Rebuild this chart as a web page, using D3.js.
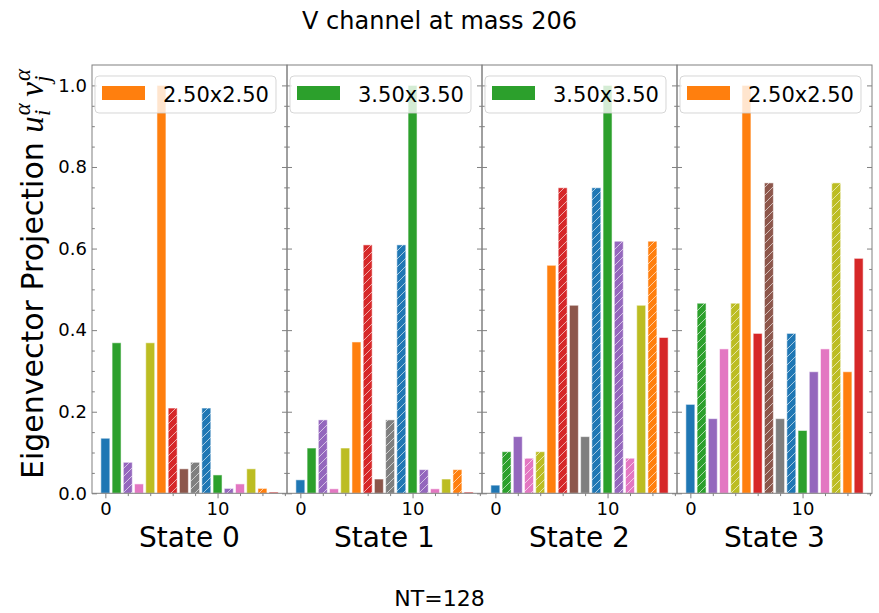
<!DOCTYPE html>
<html>
<head>
<meta charset="utf-8">
<script src="https://cdn.jsdelivr.net/npm/d3@7"></script>
<style>
  body { margin: 0; background: #fff; }
  svg { display: block; font-family: "DejaVu Sans", sans-serif; }
</style>
</head>
<body>
<svg id="chart" width="879" height="613"></svg>
<script>
// ---------------- data ----------------
const stateLabels = ["State 0", "State 1", "State 2", "State 3"];
const barIndex = d3.range(16);
const barColors = ["#1f77b4", "#2ca02c", "#9467bd", "#e377c2", "#bcbd22", "#ff7f0e", "#d62728", "#8c564b",
                   "#7f7f7f", "#1f77b4", "#2ca02c", "#9467bd", "#e377c2", "#bcbd22", "#ff7f0e", "#d62728"];

const state0 = [0.135, 0.369, 0.076, 0.023, 0.369, 1.000, 0.209, 0.060, 0.076, 0.209, 0.045, 0.012, 0.023, 0.060, 0.012, 0.003];
const state1 = [0.033, 0.111, 0.180, 0.011, 0.111, 0.371, 0.609, 0.035, 0.180, 0.609, 1.000, 0.058, 0.011, 0.035, 0.058, 0.003];
const state2 = [0.020, 0.102, 0.139, 0.086, 0.102, 0.559, 0.749, 0.461, 0.139, 0.749, 1.000, 0.618, 0.086, 0.461, 0.618, 0.382];
const state3 = [0.218, 0.466, 0.183, 0.354, 0.466, 1.000, 0.392, 0.761, 0.183, 0.392, 0.154, 0.298, 0.354, 0.761, 0.298, 0.576];

// 1 = hatched bar
const hatch0 = [0, 0, 1, 0, 0, 0, 1, 0, 1, 1, 0, 1, 0, 0, 1, 0];
const hatch1 = [0, 0, 1, 0, 0, 0, 1, 0, 1, 1, 0, 1, 0, 0, 1, 0];
const hatch2 = [0, 1, 0, 1, 1, 0, 1, 0, 0, 1, 0, 1, 1, 0, 1, 0];
const hatch3 = [0, 1, 0, 0, 1, 0, 0, 1, 0, 1, 0, 0, 0, 1, 0, 0];

const legendLabels = ["2.50x2.50", "3.50x3.50", "3.50x3.50", "2.50x2.50"];
const legendColors = ["#ff7f0e", "#2ca02c", "#2ca02c", "#ff7f0e"];

const xMajorTicks = [0, 10];
const xMinorTicks = [2, 4, 6, 8, 12, 14, 16];
const yMajorTicks = [0, 0.2, 0.4, 0.6, 0.8, 1.0];
const yMinorTicks = [0.05, 0.1, 0.15, 0.25, 0.3, 0.35, 0.45, 0.5, 0.55, 0.65, 0.7, 0.75, 0.85, 0.9, 0.95];

const titleText = "V channel at mass 206";
const footerText = "NT=128";

const values = [state0, state1, state2, state3];
const hatches = [hatch0, hatch1, hatch2, hatch3];

// ---------------- layout ----------------
const svg = d3.select("#chart");
const panelLeft0 = 92, panelW = 195, plotTop = 65, plotBottom = 493.3;
const spineColor = "#808080";

const defs = svg.append("defs");
const pat = defs.append("pattern")
  .attr("id", "hatch").attr("patternUnits", "userSpaceOnUse")
  .attr("width", 8).attr("height", 8);
pat.append("path")
  .attr("d", "M-2,2 L2,-2 M0,8 L8,0 M6,10 L10,6")
  .attr("stroke", "#fff").attr("stroke-opacity", 0.6).attr("stroke-width", 1);

const y = d3.scaleLinear().domain([0, 1.05]).range([plotBottom, plotTop]);

values.forEach((vals, p) => {
  const left = panelLeft0 + p * panelW;
  const x = d3.scaleLinear().domain([-1.19, 16.19]).range([left, left + panelW]);
  const bw = x(0.8) - x(0);
  const g = svg.append("g");

  // bars
  const bars = g.selectAll("g.bar").data(barIndex).enter().append("g").attr("class", "bar");
  bars.append("rect")
    .attr("x", i => x(i - 0.4))
    .attr("y", i => y(vals[i]))
    .attr("width", bw)
    .attr("height", i => y(0) - y(vals[i]))
    .attr("fill", i => barColors[i])
    .attr("stroke", "#ffffff").attr("stroke-opacity", 0.55).attr("stroke-width", 1);
  bars.filter(i => hatches[p][i] === 1).append("rect")
    .attr("x", i => x(i - 0.4))
    .attr("y", i => y(vals[i]))
    .attr("width", bw)
    .attr("height", i => y(0) - y(vals[i]))
    .attr("fill", "url(#hatch)");

  // y axis left (ticks inward)
  const yl = g.append("g").attr("transform", `translate(${left},0)`);
  yl.call(d3.axisLeft(y).tickValues(yMajorTicks).tickSize(-5).tickSizeOuter(0).tickPadding(5)
    .tickFormat(p === 0 ? d3.format(".1f") : () => ""));
  yl.append("g").call(d3.axisLeft(y).tickValues(yMinorTicks).tickSize(-2.8).tickSizeOuter(0).tickFormat(() => ""));
  const yr = g.append("g").attr("transform", `translate(${left + panelW},0)`);
  yr.call(d3.axisRight(y).tickValues(yMajorTicks).tickSize(-5).tickSizeOuter(0).tickFormat(() => ""));
  yr.append("g").call(d3.axisRight(y).tickValues(yMinorTicks).tickSize(-2.8).tickSizeOuter(0).tickFormat(() => ""));

  // x axis bottom (ticks outward)
  const xb = g.append("g").attr("transform", `translate(0,${plotBottom})`);
  xb.call(d3.axisBottom(x).tickValues(xMajorTicks).tickSize(5).tickSizeOuter(0).tickPadding(4).tickFormat(d3.format("d")));
  xb.append("g").call(d3.axisBottom(x).tickValues(xMinorTicks).tickSize(2.8).tickSizeOuter(0).tickFormat(() => ""));

  g.selectAll(".domain").remove();
  g.selectAll(".tick line").attr("stroke", spineColor);
  g.selectAll(".tick text").attr("font-size", 18).attr("fill", "#000").attr("font-family", "DejaVu Sans");

  // frame
  g.append("rect").attr("x", left).attr("y", plotTop).attr("width", panelW).attr("height", plotBottom - plotTop)
    .attr("fill", "none").attr("stroke", spineColor).attr("stroke-width", 1);

  // legend
  const lg = g.append("g").attr("transform", `translate(${left + 3},${76})`);
  lg.append("rect").attr("width", 181).attr("height", 37).attr("rx", 4)
    .attr("fill", "#fff").attr("fill-opacity", 0.8)
    .attr("stroke", "#cccccc").attr("stroke-opacity", 0.8);
  lg.append("rect").attr("x", 7).attr("y", 10).attr("width", 43).attr("height", 14)
    .attr("fill", legendColors[p]);
  lg.append("text").attr("x", 68).attr("y", 25.5).attr("font-size", 21).attr("fill", "#000")
    .text(legendLabels[p]);

  // state label
  g.append("text").attr("x", left + panelW / 2).attr("y", 547).attr("text-anchor", "middle")
    .attr("font-size", 28).attr("fill", "#000").text(stateLabels[p]);
});

// title & footer
svg.append("text").attr("x", 439.5).attr("y", 29).attr("text-anchor", "middle")
  .attr("font-size", 24).attr("fill", "#000").text(titleText);
svg.append("text").attr("x", 439.5).attr("y", 606).attr("text-anchor", "middle")
  .attr("font-size", 22).attr("fill", "#000").text(footerText);

// y label
const ylab = svg.append("text")
  .attr("transform", `translate(43,274) rotate(-90)`)
  .attr("text-anchor", "middle").attr("font-size", 30).attr("fill", "#000");
ylab.append("tspan").text("Eigenvector Projection ");
const mathFont = "'Liberation Serif', 'DejaVu Serif', serif";
ylab.append("tspan").attr("font-family", mathFont).attr("font-style", "italic").attr("font-size", 33).text("u");
ylab.append("tspan").attr("font-family", mathFont).attr("font-style", "italic").attr("font-size", 23).attr("dx", 1).attr("dy", -13).text("α");
ylab.append("tspan").attr("font-family", mathFont).attr("font-style", "italic").attr("font-size", 23).attr("dx", -13).attr("dy", 20).text("i");
ylab.append("tspan").attr("font-family", mathFont).attr("font-style", "italic").attr("font-size", 33).attr("dx", 13).attr("dy", -7).text("v");
ylab.append("tspan").attr("font-family", mathFont).attr("font-style", "italic").attr("font-size", 23).attr("dx", 1).attr("dy", -13).text("α");
ylab.append("tspan").attr("font-family", mathFont).attr("font-style", "italic").attr("font-size", 23).attr("dx", -13).attr("dy", 20).text("j");
</script>
</body>
</html>
